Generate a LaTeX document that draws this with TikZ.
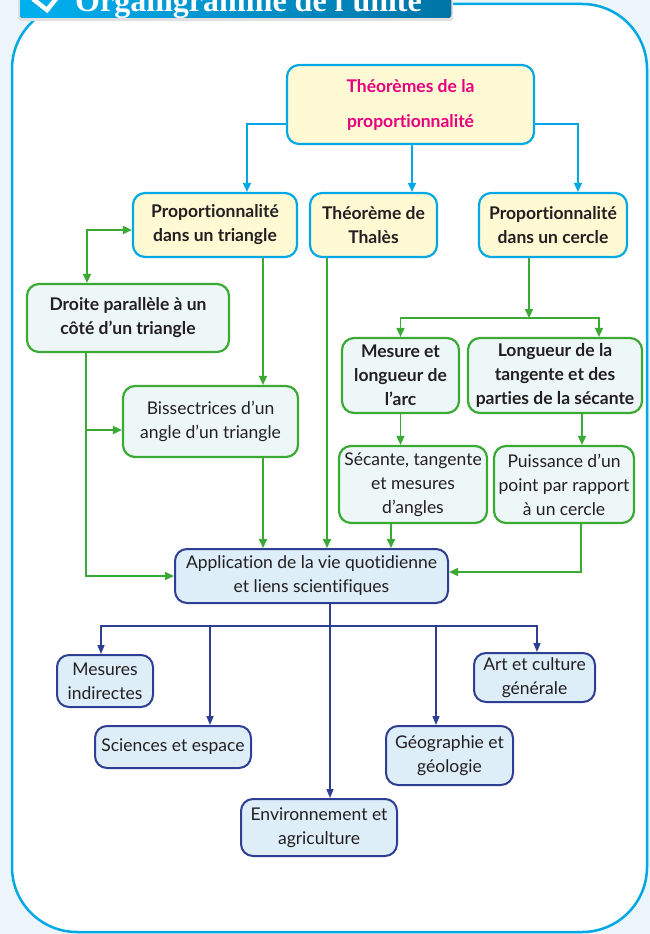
\documentclass[tikz,border=0pt]{standalone}
\usepackage{fontspec}
\setmainfont{Lato}[Ligatures=NoCommon]
\newfontfamily\bannerfont{Liberation Serif}
\usetikzlibrary{arrows.meta}

\definecolor{cyanline}{RGB}{0,168,228}
\definecolor{bannerA}{RGB}{0,176,240}
\definecolor{bannerB}{RGB}{0,116,166}
\definecolor{paleyellow}{RGB}{255,249,212}
\definecolor{magentatxt}{RGB}{229,0,126}
\definecolor{greenline}{RGB}{58,170,53}
\definecolor{palegreen}{RGB}{238,247,247}
\definecolor{navyline}{RGB}{46,62,146}
\definecolor{paleblue}{RGB}{221,238,249}
\definecolor{pagebg}{RGB}{236,245,252}
\definecolor{inktxt}{RGB}{35,31,32}

\begin{document}
\begin{tikzpicture}[x=1pt, y=-1pt,
        box/.style   ={align=center, inner sep=0pt, rounded corners=12pt, text=inktxt,
                       font=\fontsize{17.5}{24}\selectfont},
        theo/.style  ={box, draw=cyanline, fill=paleyellow, line width=2.2pt,
                       font=\bfseries\fontsize{17.5}{24}\selectfont},
        lemma/.style ={box, draw=greenline, fill=palegreen, line width=2.2pt},
        lemmab/.style={lemma, font=\bfseries\fontsize{17.5}{24}\selectfont},
        appl/.style  ={box, draw=navyline, fill=paleblue, line width=2pt},
        cyanarr/.style ={cyanline, line width=1.6pt, -{Triangle[length=9pt,width=8pt]}},
        greenarr/.style={greenline, line width=1.6pt, -{Triangle[length=9pt,width=8pt]}},
        navyarr/.style ={navyline, line width=1.5pt, -{Triangle[length=9pt,width=7pt]}}]

    %--- Page and frame ---
    \useasboundingbox (0,0) rectangle (650,934);
    \clip (0,0) rectangle (650,934);
    \fill[pagebg] (0,0) rectangle (650,934);
    \draw[cyanline, fill=white, line width=2.5pt, rounded corners=65pt] (12,4) rectangle (647,932);

    %--- Banner ---
    \fill[black!12, rounded corners=3pt] (18,-10) rectangle (453,21);
    \fill[left color=bannerA, right color=bannerB, rounded corners=3pt] (20,-10) rectangle (451,18);
    \draw[white, line width=4.5pt] (33,-1) -- (47,10) -- (60,-6);
    \node[anchor=base west, inner sep=0pt, text=white,
          font=\bannerfont\bfseries\fontsize{32}{32}\selectfont] (title) at (75,12) {Organigramme de l'unité};

    %--- Nodes ---
    \node[theo, text=magentatxt, minimum width=247pt, minimum height=79pt,
          font=\bfseries\fontsize{17.5}{35}\selectfont] (top) at (410.5,104.5) {Théorèmes de la\\proportionnalité};

    \node[theo, minimum width=164pt, minimum height=64pt] (tri)    at (215,225)   {Proportionnalité\\dans un triangle};
    \node[theo, minimum width=127pt, minimum height=64pt] (thales) at (373.5,225) {Théorème de\\Thalès};
    \node[theo, minimum width=148pt, minimum height=64pt] (cercle) at (553,225)   {Proportionnalité\\dans un cercle};

    \node[lemmab, minimum width=202pt, minimum height=68pt] (droite)   at (128,318)   {Droite parallèle à un\\côté d’un triangle};
    \node[lemma,  minimum width=175pt, minimum height=71pt] (biss)     at (210.5,421.5) {Bissectrices d’un\\angle d’un triangle};
    \node[lemmab, minimum width=117pt, minimum height=75pt] (mesure)   at (400.5,375.5) {Mesure et\\longueur de\\l’arc};
    \node[lemmab, minimum width=174pt, minimum height=75pt] (longueur) at (555,375.5)   {Longueur de la\\tangente et des\\parties de la sécante};
    \node[lemma,  minimum width=148pt, minimum height=77pt] (secante)  at (413,484.5)   {Sécante, tangente\\et mesures\\d’angles};
    \node[lemma,  minimum width=140pt, minimum height=77pt] (puiss)    at (564,484.5)   {Puissance d’un\\point par rapport\\à un cercle};

    \node[appl, minimum width=273pt, minimum height=54pt] (app) at (311.5,576) {Application de la vie quotidienne\\et liens scientifiques};

    \node[appl, minimum width=96pt,  minimum height=52pt] (mesind)   at (105,681)   {Mesures\\indirectes};
    \node[appl, minimum width=156pt, minimum height=42pt] (sciences) at (173,747)   {Sciences et espace};
    \node[appl, minimum width=156pt, minimum height=57pt] (env)      at (319,827.5) {Environnement et\\agriculture};
    \node[appl, minimum width=127pt, minimum height=59pt] (geo)      at (449.5,755.5) {Géographie et\\géologie};
    \node[appl, minimum width=121pt, minimum height=49pt] (art)      at (534.5,677.5) {Art et culture\\générale};

    \coordinate (hub)   at (529,318);
    \coordinate (bus)   at (330,626);
    \coordinate (split) at (86,430);

    %--- Top level arrows ---
    \draw[cyanarr] ([yshift=-19.5pt]top.west) -| ([xshift=32pt]tri.north);
    \draw[cyanarr] ([yshift=-19.5pt]top.east) -| ([xshift=25pt]cercle.north);
    \draw[cyanarr] ([xshift=1.5pt]top.south) -- ([xshift=1.5pt]top.south |- thales.north);

    %--- Triangle branch ---
    \draw[greenarr, {Triangle[length=9pt,width=8pt]}-{Triangle[length=9pt,width=8pt]}]
        ([xshift=-41pt]droite.north) |- ([yshift=-5pt]tri.west);
    \draw[greenarr] ([xshift=48pt]tri.south) -- ([xshift=48pt]tri.south |- biss.north);
    \draw[greenarr] ([xshift=-42pt]droite.south) |- (app.west);
    \draw[greenarr] (split) -- (split -| biss.west);
    \draw[greenarr] ([xshift=52.5pt]biss.south) -- ([xshift=52.5pt]biss.south |- app.north);
    \draw[greenarr] ([xshift=-46.5pt]thales.south) -- ([xshift=-46.5pt]thales.south |- app.north);

    %--- Circle branch ---
    \draw[greenarr] (cercle.south -| hub) -- (hub);
    \draw[greenarr] (hub) -| (mesure.north);
    \draw[greenarr] (hub) -| ([xshift=44pt]longueur.north);
    \draw[greenarr] (mesure.south) -- (mesure.south |- secante.north);
    \draw[greenarr] ([xshift=27pt]longueur.south) -- ([xshift=27pt]longueur.south |- puiss.north);
    \draw[greenarr] ([xshift=-22pt]secante.south) -- ([xshift=-22pt]secante.south |- app.north);
    \draw[greenarr] ([xshift=17pt]puiss.south) |- ([yshift=4pt]app.east);

    %--- Applications ---
    \draw[navyline, line width=1.5pt] (app.south -| bus) -- (bus);
    \draw[navyarr] (bus) -| ([xshift=-4pt]mesind.north);
    \draw[navyarr] (bus) -| ([xshift=37pt]sciences.north);
    \draw[navyarr] (bus) -- (env.north -| bus);
    \draw[navyarr] (bus) -| ([xshift=-13.5pt]geo.north);
    \draw[navyarr] (bus) -| ([xshift=2.5pt]art.north);

\end{tikzpicture}
\end{document}
